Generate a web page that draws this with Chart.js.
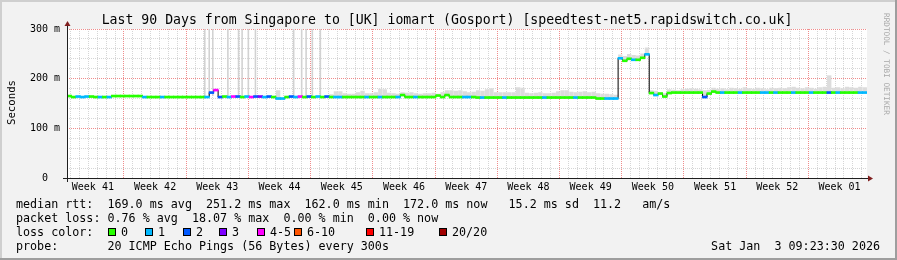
<!DOCTYPE html>
<html>
<head>
<meta charset="utf-8">
<title>smokeping</title>
<script src="https://cdn.jsdelivr.net/npm/chart.js@4.4.1/dist/chart.umd.min.js"></script>
<style>
  html, body { margin: 0; padding: 0; background: #f2f2f2; }
  canvas { display: block; }
</style>
</head>
<body>
<canvas id="graphique-smoke" width="897" height="260"></canvas>
<script>
// Days since graph start (Sun Oct 5 2025 09:23), 0.5 day per sample
const DAYS = 90;
const STEP = 0.5;
const WEEK_START = 6.41; // first monday 00:00

const weekLabels = ['Week 41', 'Week 42', 'Week 43', 'Week 44', 'Week 45', 'Week 46', 'Week 47',
  'Week 48', 'Week 49', 'Week 50', 'Week 51', 'Week 52', 'Week 01'];
const yGridMs = [0, 20, 40, 60, 80, 100, 120, 140, 160, 180, 200, 220, 240, 260, 280, 300];
const yLabels = { 0: '0  ', 100: '100 m', 200: '200 m', 300: '300 m' };

// median rtt (ms), one value per half day
const medianMs = [
  165, 163, 164, 163, 164, 164, 163, 163, 163, 163,
  165, 165, 165, 165, 165, 165, 165, 163, 163, 163,
  163, 163, 163, 163, 163, 163, 163, 163, 163, 163,
  163, 163, 172, 177, 163, 164, 163, 164, 164, 163,
  164, 163, 164, 164, 163, 164, 163, 160, 160, 163,
  164, 163, 164, 163, 164, 163, 164, 163, 164, 163,
  163, 163, 163, 163, 163, 163, 163, 163, 163, 163,
  163, 163, 163, 163, 163, 167, 163, 163, 163, 163,
  163, 163, 163, 166, 163, 167, 163, 163, 163, 163,
  163, 163, 162, 162, 162, 162, 162, 162, 162, 162,
  162, 162, 162, 162, 162, 162, 162, 162, 162, 162,
  162, 162, 162, 162, 162, 162, 162, 162, 162, 160,
  160, 160, 160, 160, 241, 236, 240, 238, 238, 242,
  249, 171, 167, 170, 164, 171, 172, 172, 172, 172,
  172, 172, 172, 163, 170, 174, 172, 172, 172, 172,
  172, 172, 172, 172, 172, 172, 172, 172, 172, 172,
  172, 172, 172, 172, 172, 172, 172, 172, 172, 172,
  172, 172, 172, 172, 172, 172, 172, 172, 172, 172
];

// lost pings out of 20, same samples
const lossCount = [
  0, 0, 1, 1, 1, 0, 0, 1, 0, 1,
  0, 0, 0, 0, 0, 0, 0, 1, 0, 0,
  0, 1, 0, 0, 0, 0, 0, 0, 0, 0,
  0, 1, 2, 4, 2, 0, 1, 4, 2, 0,
  1, 4, 2, 3, 1, 2, 0, 1, 1, 0,
  2, 1, 4, 0, 2, 0, 1, 0, 2, 0,
  1, 1, 0, 0, 0, 0, 0, 1, 0, 0,
  1, 0, 0, 0, 1, 0, 0, 0, 1, 0,
  0, 0, 0, 0, 0, 0, 0, 0, 0, 1,
  1, 0, 0, 1, 0, 0, 0, 0, 1, 0,
  0, 0, 0, 0, 0, 0, 0, 1, 0, 0,
  0, 0, 0, 0, 1, 0, 0, 0, 0, 0,
  0, 1, 1, 1, 1, 0, 0, 1, 0, 0,
  1, 0, 1, 0, 0, 0, 0, 0, 0, 0,
  0, 0, 0, 2, 0, 0, 0, 1, 0, 0,
  0, 1, 0, 0, 0, 0, 1, 1, 0, 1,
  0, 0, 0, 1, 0, 0, 0, 1, 0, 0,
  0, 2, 0, 1, 0, 0, 0, 0, 1, 1
];

// top of the smoke (slowest ping, ms), null = no smoke
const _ = null;
const smokeTopMs = [
  _, _, _, _, _, _, _, _, _, _,
  _, _, _, _, _, _, _, _, _, _,
  _, _, _, _, _, _, _, _, _, _,
  _, _, _, _, _, _, _, _, _, _,
  _, _, _, _, _, _, _, 176, _, _,
  _, _, _, _, _, _, _, _, _, 168,
  174, 174, 170, 169, 169, 172, 175, 170, 170, 172,
  179, 178, 171, 170, 169, 172, 171, 172, 170, 169,
  170, 170, 171, 169, 172, 176, 176, 175, 176, 174,
  172, 173, 176, 175, 178, 180, 172, 172, 172, 172,
  172, 182, 181, 171, 170, 171, 172, 170, 170, 171,
  174, 176, 176, 173, 172, 173, 174, 172, 173, 170,
  169, 169, 168, 167, 248, 245, 249, 247, 246, 250,
  262, 176, 175, 172, 170, 178, 177, 176, 178, 179,
  180, 179, 178, 176, 177, 181, 179, 180, 178, 181,
  180, 179, 182, 180, 179, 181, 180, 178, 181, 180,
  181, 180, 182, 183, 181, 180, 182, 181, 179, 182,
  183, 206, 181, 182, 180, 183, 182, 181, 183, 182
];

// single samples whose slowest ping went off the top of the graph
const spikeDays = [15.5, 16.0, 16.4, 18.1, 19.3, 19.7, 20.4, 21.2, 25.5, 26.4, 26.9, 27.6, 28.5];
const spikeFromMs = 165;
const spikeToMs = 300;

const lossLegend = ['0', '1', '2', '3', '4-5', '6-10', '11-19', '20/20'];
const lossColors = ['#26ff00', '#00b8ff', '#0059ff', '#7e00ff', '#ff00ff', '#ff5500', '#ff0000', '#a10000'];

const MONO = '"DejaVu Sans Mono", monospace';
const W = 897, H = 260;
const PLOT_W = 800;
const BAR_W = PLOT_W / medianMs.length + 0.25;
const LINE_HALF = 2; // ms, half the thickness of the median line
const GRID_MINOR = '#d6d6d6';
const GRID_MAJOR = '#f08c8c';

function lossBucket(n) {
  if (n <= 3) return n;
  if (n <= 5) return 4;
  if (n <= 10) return 5;
  if (n <= 19) return 6;
  return 7;
}

const dayLines = [];
for (let d = WEEK_START - 6; d < DAYS; d += 1) dayLines.push(d);
const weekMid = weekLabels.map((l, k) => WEEK_START - 3.5 + 7 * k);

function isWeekLine(v) {
  const k = Math.round(v - WEEK_START);
  return k >= 0 && k % 7 === 0;
}

/**
 * Cadre, textes et axes façon rrdtool
 */
const rrdChrome = {
  id: 'rrdChrome',
  beforeDraw(chart) {
    const { ctx, chartArea: a } = chart;
    ctx.save();
    ctx.fillStyle = '#f2f2f2';
    ctx.fillRect(0, 0, W, H);
    ctx.fillStyle = '#cfcfcf';
    ctx.fillRect(0, 0, W, 2);
    ctx.fillRect(0, 0, 2, H);
    ctx.fillStyle = '#9e9e9e';
    ctx.fillRect(0, H - 2, W, 2);
    ctx.fillRect(W - 2, 0, 2, H);
    ctx.fillStyle = '#ffffff';
    ctx.fillRect(a.left, a.top, a.right - a.left, a.bottom - a.top);
    ctx.restore();
  },
  afterDraw(chart) {
    const { ctx, chartArea: a } = chart;
    ctx.save();
    // axes
    ctx.strokeStyle = '#1f1f1f';
    ctx.lineWidth = 1;
    ctx.beginPath();
    ctx.moveTo(a.left - 4, a.bottom + 0.5);
    ctx.lineTo(a.right + 2, a.bottom + 0.5);
    ctx.moveTo(a.left + 0.5, a.bottom + 4);
    ctx.lineTo(a.left + 0.5, a.top - 4);
    ctx.stroke();
    ctx.fillStyle = '#801f1f';
    ctx.beginPath();
    ctx.moveTo(a.right + 6, a.bottom + 0.5);
    ctx.lineTo(a.right + 1, a.bottom - 2.5);
    ctx.lineTo(a.right + 1, a.bottom + 3.5);
    ctx.closePath();
    ctx.fill();
    ctx.beginPath();
    ctx.moveTo(a.left + 0.5, a.top - 8);
    ctx.lineTo(a.left - 2.5, a.top - 3);
    ctx.lineTo(a.left + 3.5, a.top - 3);
    ctx.closePath();
    ctx.fill();

    // title
    ctx.fillStyle = '#000';
    ctx.textBaseline = 'alphabetic';
    ctx.textAlign = 'center';
    ctx.font = '13.2px ' + MONO;
    ctx.fillText('Last 90 Days from Singapore to [UK] iomart (Gosport) [speedtest-net5.rapidswitch.co.uk]', 447, 24);

    // y title
    ctx.save();
    ctx.translate(14.5, 102.5);
    ctx.rotate(-Math.PI / 2);
    ctx.font = '10.7px ' + MONO;
    ctx.fillText('Seconds', 0, 0);
    ctx.restore();

    // watermark
    ctx.save();
    ctx.translate(884, 13);
    ctx.rotate(Math.PI / 2);
    ctx.textAlign = 'left';
    ctx.fillStyle = '#a8a8a8';
    ctx.font = '7.7px ' + MONO;
    ctx.fillText('RRDTOOL / TOBI OETIKER', 0, 0);
    ctx.restore();

    // legend
    ctx.textAlign = 'left';
    ctx.font = '11.7px ' + MONO;
    ctx.fillText('median rtt:  169.0 ms avg  251.2 ms max  162.0 ms min  172.0 ms now   15.2 ms sd  11.2   am/s', 16, 208);
    ctx.fillText('packet loss: 0.76 % avg  18.07 % max  0.00 % min  0.00 % now', 16, 222);
    ctx.fillText('loss color:', 16, 236);
    ctx.fillText('probe:       20 ICMP Echo Pings (56 Bytes) every 300s', 16, 250);
    ctx.textAlign = 'right';
    ctx.fillText('Sat Jan  3 09:23:30 2026', 880, 250);

    const boxX = [108, 145, 183, 219, 257, 294, 366, 439];
    ctx.textAlign = 'left';
    lossLegend.forEach((l, i) => {
      ctx.fillStyle = lossColors[i];
      ctx.fillRect(boxX[i], 228, 8, 8);
      ctx.strokeStyle = '#000';
      ctx.strokeRect(boxX[i] + 0.5, 228.5, 7, 7);
      ctx.fillStyle = '#000';
      ctx.fillText(l, boxX[i] + 13, 236);
    });
    ctx.restore();
  }
};

// les jeux de données
const medianBars = medianMs.map((v, i) => ({ x: i * STEP + STEP / 2, y: [v - LINE_HALF, v + LINE_HALF] }));
const medianSteps = medianMs.map((v, i) => ({ x: i * STEP, y: v }));
medianSteps.push({ x: DAYS, y: medianMs[medianMs.length - 1] });
const smokeBars = smokeTopMs.flatMap((t, i) => (t === null ? [] : [{ x: i * STEP + STEP / 2, y: [medianMs[i], t] }]));
const spikeBars = spikeDays.map(d => ({ x: d, y: [spikeFromMs, spikeToMs] }));

const data = {
  datasets: [
    {
      type: 'bar', label: 'median', data: medianBars, order: 0,
      backgroundColor: lossCount.map(n => lossColors[lossBucket(n)]),
      barThickness: BAR_W, grouped: false
    },
    {
      type: 'line', label: 'median step', data: medianSteps, order: 1,
      borderColor: '#000', borderWidth: 1, pointRadius: 0, stepped: true, fill: false
    },
    {
      type: 'bar', label: 'spikes', data: spikeBars, order: 2,
      backgroundColor: '#d2d2d2', barThickness: 1.6, grouped: false, inflateAmount: 0
    },
    {
      type: 'bar', label: 'smoke', data: smokeBars, order: 3,
      backgroundColor: '#dcdcdc', barThickness: BAR_W - 1, grouped: false
    }
  ]
};

const options = {
  responsive: false,
  devicePixelRatio: 1,
  animation: false,
  events: [],
  layout: { padding: { left: 0, top: 29, right: 30, bottom: 0 } },
  plugins: { legend: { display: false }, tooltip: { enabled: false }, title: { display: false } },
  scales: {
    x: {
      type: 'linear', position: 'bottom', min: 0, max: DAYS, offset: false,
      afterBuildTicks: s => { s.ticks = dayLines.map(v => ({ value: v })); },
      afterFit: s => { s.height = 0; },
      ticks: { display: false },
      grid: {
        offset: false, drawTicks: false, lineWidth: 1,
        color: c => (isWeekLine(c.tick.value) ? GRID_MAJOR : GRID_MINOR)
      },
      border: { display: false, dash: [1, 1] }
    },
    xw: {
      type: 'linear', position: 'bottom', min: 0, max: DAYS, offset: false,
      afterBuildTicks: s => { s.ticks = weekMid.map(v => ({ value: v })); },
      afterFit: s => { s.height = H - 178; },
      ticks: {
        autoSkip: false, maxRotation: 0, padding: 3, color: '#000',
        font: { family: MONO, size: 10 },
        callback: (v, i) => weekLabels[i]
      },
      grid: { display: false, drawTicks: false, offset: false },
      border: { display: false }
    },
    y: {
      type: 'linear', min: 0, max: 300,
      afterBuildTicks: s => { s.ticks = yGridMs.map(v => ({ value: v })); },
      afterFit: s => { s.width = 67; },
      ticks: {
        autoSkip: false, padding: 7, color: '#000',
        font: { family: MONO, size: 10 },
        callback: v => yLabels[v] || ''
      },
      grid: {
        drawTicks: false, lineWidth: 1,
        color: c => (c.tick.value % 100 === 0 ? GRID_MAJOR : GRID_MINOR)
      },
      border: { display: false, dash: [1, 1] }
    }
  }
};

const ctx = document.getElementById('graphique-smoke').getContext('2d');
new Chart(ctx, { type: 'line', data: data, options: options, plugins: [rrdChrome] });
</script>
</body>
</html>
